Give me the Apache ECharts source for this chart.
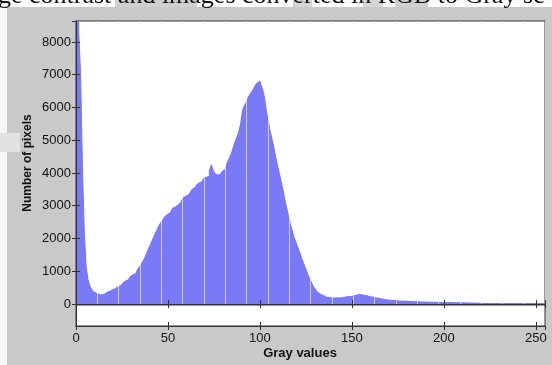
<!DOCTYPE html>
<html><head><meta charset="utf-8">
<script src="https://cdn.jsdelivr.net/npm/echarts@6/dist/echarts.min.js"></script>
<style>html,body{margin:0;padding:0;background:#fff}#c{width:552px;height:365px}</style>
</head><body><div id="c"></div>
<script>
// Histogram of gray values (bins 0..255)
var grayLevels = [];
for (var i = 0; i < 256; i++) grayLevels.push(i);
var pixelCounts = [
 8640,8600,8300,7000,4200,2200,1150,750,560,450,
 380,330,290,270,280,300,320,360,390,420,
 440,470,500,530,560,610,650,700,740,790,
 840,890,930,980,1050,1130,1220,1320,1430,1560,
 1700,1820,1950,2080,2200,2330,2430,2520,2600,2680,
 2740,2800,2850,2920,2960,3020,3080,3100,3180,3250,
 3300,3350,3400,3450,3520,3560,3640,3700,3730,3780,
 3840,3870,3900,4050,4250,4100,3980,3940,3950,4000,
 4050,4100,4200,4350,4480,4600,4780,4950,5100,5250,
 5500,5900,6050,6150,6300,6400,6480,6560,6680,6750,
 6800,6700,6550,6300,5900,5600,5300,5050,4800,4500,
 4250,4000,3750,3500,3200,2950,2700,2450,2250,2050,
 1900,1750,1600,1430,1280,1130,980,840,720,600,
 500,420,350,300,260,230,210,200,190,185,
 180,185,190,180,190,200,210,220,230,220,
 240,250,270,280,290,280,270,260,250,230,
 220,210,200,185,175,165,155,145,135,125,
 120,115,110,105,100,95,90,88,85,82,
 80,78,75,72,70,68,66,64,62,60,
 58,56,55,54,52,50,50,48,47,46,
 45,44,43,42,41,40,40,39,38,37,
 36,35,34,33,32,30,28,26,24,22,
 20,18,16,15,14,13,12,11,10,10,
 9,9,8,8,7,7,6,6,5,5,
 5,4,4,4,3,3,3,3,2,2,
 2,2,2,1,1,1
];
var xTicks = [0, 50, 100, 150, 200, 250];
var yTicks = [0, 1000, 2000, 3000, 4000, 5000, 6000, 7000, 8000];
var titleText = 'ge contrast and images converted in RGB to Gray sc';
var xName = 'Gray values';
var yName = 'Number of pixels';

var data = grayLevels.map(function (g, i) { return [g, pixelCounts[i]]; });

var chart = echarts.init(document.getElementById('c'), null, {renderer: 'canvas'});
var lblFont = {fontFamily: 'Liberation Sans, Arial, sans-serif', fontSize: 13, color: '#111'};
var axLine = {show: true, lineStyle: {color: '#333', width: 1}};
var tick = {show: true, inside: true, length: 4, lineStyle: {color: '#333'}};

chart.setOption({
  backgroundColor: '#c9c9c9',
  animation: false,
  grid: [
    {left: 76, top: 21, width: 469, height: 283, show: true, backgroundColor: '#ffffff', borderColor: '#333', borderWidth: 1},
    {left: 76, top: 305, width: 469, height: 21, show: true, backgroundColor: '#ffffff', borderColor: '#333', borderWidth: 1}
  ],
  xAxis: [
    {type: 'value', gridIndex: 0, min: 0, max: 255, interval: 50, position: 'bottom', z: 6,
     axisLine: axLine, axisTick: tick, axisLabel: {show: false}, splitLine: {show: false}},
    {type: 'value', gridIndex: 0, min: 0, max: 255, interval: 50, position: 'top', z: 6,
     axisLine: axLine, axisTick: tick, axisLabel: {show: false}, splitLine: {show: false}},
    {type: 'value', gridIndex: 1, min: 0, max: 255, interval: 50, position: 'bottom',
     axisLine: axLine, axisTick: tick, splitLine: {show: false},
     axisLabel: Object.assign({margin: 6, showMaxLabel: false, formatter: function (v) { return xTicks.indexOf(v) >= 0 ? String(v) : ''; }}, lblFont)},
    {type: 'value', gridIndex: 1, min: 0, max: 255, interval: 50, position: 'top',
     axisLine: axLine, axisTick: tick, axisLabel: {show: false}, splitLine: {show: false}},
    // faint moire lines seen over the bars
    {type: 'value', gridIndex: 0, min: 0, max: 255, interval: 11.6, position: 'bottom', z: 5,
     axisLine: {show: false}, axisTick: {show: false}, axisLabel: {show: false},
     splitLine: {show: true, lineStyle: {color: 'rgba(255,255,255,0.6)', width: 1}}}
  ],
  yAxis: [
    {type: 'value', gridIndex: 0, min: 0, max: 8640, interval: 1000, position: 'left', z: 6,
     axisLine: axLine, axisTick: tick, splitLine: {show: false},
     axisLabel: Object.assign({margin: 5, showMaxLabel: false, formatter: function (v) { return yTicks.indexOf(v) >= 0 ? String(v) : ''; }}, lblFont)},
    {type: 'value', gridIndex: 0, min: 0, max: 8640, interval: 1000, position: 'right', z: 6,
     axisLine: axLine, axisTick: tick, axisLabel: {show: false}, splitLine: {show: false}},
    {type: 'value', gridIndex: 1, min: 0, max: 1, position: 'left',
     axisLine: axLine, axisTick: {show: false}, axisLabel: {show: false}, splitLine: {show: false}},
    {type: 'value', gridIndex: 1, min: 0, max: 1, position: 'right',
     axisLine: axLine, axisTick: {show: false}, axisLabel: {show: false}, splitLine: {show: false}}
  ],
  series: [{
    type: 'line', xAxisIndex: 0, yAxisIndex: 0, data: data, step: 'middle',
    symbol: 'none', lineStyle: {color: '#7575f2', width: 1},
    areaStyle: {color: '#7a7af6', opacity: 1}, z: 2
  }],
  graphic: [
    {type: 'rect', left: 0, top: 0, shape: {width: 552, height: 7}, style: {fill: '#ffffff'}, z: 10},
    {type: 'rect', left: 0, top: 0, shape: {width: 7, height: 365}, style: {fill: '#f6f6f6'}, z: 10},
    {type: 'rect', left: 0, top: 133, shape: {width: 20, height: 19}, style: {fill: '#e2e2e2'}, z: 10},
    {type: 'rect', left: 115, top: 0, shape: {width: 82, height: 7}, style: {fill: '#cfcfcf'}, z: 10},
    {type: 'rect', left: 293, top: 0, shape: {width: 19, height: 7}, style: {fill: '#d6d6d6'}, z: 10},
    {type: 'rect', left: 363, top: 0, shape: {width: 20, height: 7}, style: {fill: '#d6d6d6'}, z: 10},
    {type: 'rect', left: 395, top: 0, shape: {width: 33, height: 7}, style: {fill: '#d0d0d0'}, z: 10},
    {type: 'text', left: -2, top: -17, z: 11,
     style: {text: titleText, fill: '#111', font: '26px "Liberation Serif", "Times New Roman", serif'}},
    {type: 'text', x: 300, y: 353, z: 11,
     style: {text: xName, fill: '#111', align: 'center', verticalAlign: 'middle', font: 'bold 13px "Liberation Sans", Arial, sans-serif'}},
    {type: 'text', x: 28, y: 163, rotation: Math.PI / 2, z: 11,
     style: {text: yName, fill: '#111', align: 'center', verticalAlign: 'middle', font: 'bold 12px "Liberation Sans", Arial, sans-serif'}}
  ]
});
</script>
</body></html>
